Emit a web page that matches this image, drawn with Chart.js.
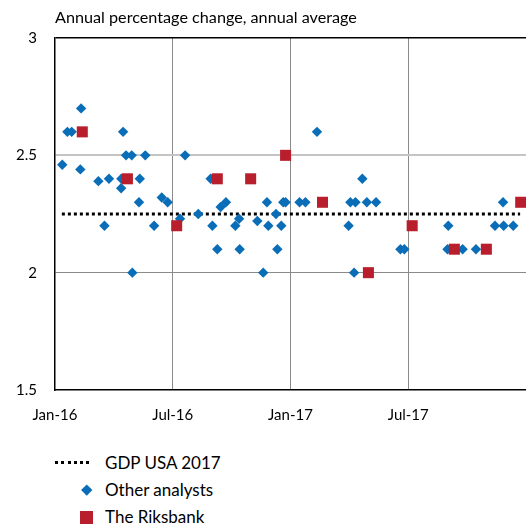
<!DOCTYPE html>
<html>
<head>
<meta charset="utf-8">
<script src="https://cdn.jsdelivr.net/npm/chart.js@4.4.0/dist/chart.umd.min.js"></script>
<style>
  body { margin: 0; background: #fff; }
  #wrap { position: relative; width: 526px; height: 524px; overflow: hidden; font-family: Lato, "Liberation Sans", sans-serif; color: #000; }
  #sub { position: absolute; left: 55px; top: 8px; font-size: 16.2px; line-height: 18px; white-space: nowrap; }
  #chart { position: absolute; left: 0; top: 0; }
  #legend { position: absolute; left: 0; top: 450px; width: 526px; }
  .row { position: absolute; left: 0; height: 26px; width: 526px; }
  .row .txt { position: absolute; left: 105px; top: 0; font-size: 17px; line-height: 26px; white-space: nowrap; }
  .sym { position: absolute; }
</style>
</head>
<body>
<div id="wrap">
  <canvas id="chart" width="526" height="430"></canvas>
  <div id="sub">Annual percentage change, annual average</div>
  <div id="legend"></div>
</div>
<script>
// Time is measured in months from January 2016 (0 = Jan-16, 24 = Jan-18)
const tickMonths = [0, 6, 12, 18];
const tickLabels = ['Jan-16', 'Jul-16', 'Jan-17', 'Jul-17'];
const yTicks = [1.5, 2, 2.5, 3];
const yTickLabels = ['1.5', '2', '2.5', '3'];

// Forecasts of US GDP growth for 2017, by publication date
const analystMonths = [0.37, 0.63, 0.85, 1.33, 1.29, 2.21, 2.52, 2.75, 3.37, 3.38, 3.47, 3.62, 3.91, 3.94, 4.28,
  4.32, 4.60, 5.05, 5.44, 5.74, 6.37, 6.63, 7.30, 7.93, 8.02, 8.27, 8.44, 8.71, 9.19, 9.38, 9.41, 10.31,
  10.61, 10.80, 10.87, 11.26, 11.33, 11.53, 11.63, 11.75, 12.46, 12.76, 13.35, 14.96, 15.05, 15.24, 15.31,
  15.66, 15.89, 16.36, 17.60, 17.80, 20.00, 20.04, 20.77, 21.45, 22.42, 22.83, 22.86, 23.35];
const analystValues = [2.46, 2.60, 2.60, 2.70, 2.44, 2.39, 2.20, 2.40, 2.36, 2.40, 2.60, 2.50, 2.50, 2.00, 2.30,
  2.40, 2.50, 2.20, 2.32, 2.30, 2.23, 2.50, 2.25, 2.40, 2.20, 2.10, 2.28, 2.30, 2.20, 2.23, 2.10, 2.22,
  2.00, 2.30, 2.20, 2.25, 2.10, 2.20, 2.30, 2.30, 2.30, 2.30, 2.60, 2.20, 2.30, 2.00, 2.30,
  2.40, 2.30, 2.30, 2.10, 2.10, 2.10, 2.20, 2.10, 2.10, 2.20, 2.30, 2.20, 2.20];

const riksbankMonths = [1.39, 3.69, 6.20, 8.27, 9.97, 11.75, 13.63, 15.97, 18.20, 20.35, 21.98, 23.73];
const riksbankValues = [2.60, 2.40, 2.20, 2.40, 2.40, 2.50, 2.30, 2.00, 2.20, 2.10, 2.10, 2.30];

// Outcome line
const gdpMonths = [0.35, 23.7];
const gdpValues = [2.25, 2.25];

const seriesNames = ['GDP USA 2017', 'Other analysts', 'The Riksbank'];
const blue = '#0a6db7';
const red = '#b81e2c';

const toPoints = (xs, ys) => xs.map((x, i) => ({ x: x, y: ys[i] }));

const font = { family: 'Lato, "Liberation Sans", sans-serif', size: 15 };

new Chart(document.getElementById('chart'), {
  type: 'scatter',
  data: {
    datasets: [
      {
        label: seriesNames[0],
        type: 'line',
        data: toPoints(gdpMonths, gdpValues),
        borderColor: '#000',
        borderWidth: 3,
        borderDash: [3, 3],
        pointRadius: 0,
        fill: false,
        order: 3
      },
      {
        label: seriesNames[1],
        data: toPoints(analystMonths, analystValues),
        pointStyle: 'rectRot',
        pointRadius: 5.2,
        pointBackgroundColor: blue,
        pointBorderColor: blue,
        pointBorderWidth: 0,
        order: 2
      },
      {
        label: seriesNames[2],
        data: toPoints(riksbankMonths, riksbankValues),
        pointStyle: 'rect',
        pointRadius: 7.8,
        pointBackgroundColor: red,
        pointBorderColor: red,
        pointBorderWidth: 0,
        order: 1
      }
    ]
  },
  options: {
    responsive: false,
    animation: false,
    layout: { autoPadding: false, padding: { top: 38, left: 0, right: 0, bottom: 0 } },
    plugins: { legend: { display: false }, tooltip: { enabled: false } },
    scales: {
      x: {
        type: 'linear',
        min: 0,
        max: 24,
        afterBuildTicks: s => { s.ticks = tickMonths.map(v => ({ value: v })); },
        afterFit: s => { s.height = 40; },
        ticks: {
          autoSkip: false,
          maxRotation: 0,
          padding: 16,
          color: '#000',
          font: font,
          callback: v => { const i = tickMonths.indexOf(v); return i < 0 ? '' : tickLabels[i]; }
        },
        grid: {
          drawTicks: false,
          color: c => (c.tick && c.tick.value === 0) ? 'rgba(0,0,0,0)' : '#8a8a8a',
          lineWidth: 1
        },
        border: { display: true, color: '#000', width: 1.5 }
      },
      y: {
        min: 1.5,
        max: 3,
        afterBuildTicks: s => { s.ticks = yTicks.map(v => ({ value: v })); },
        afterFit: s => { s.width = 55; },
        ticks: {
          padding: 18,
          color: '#000',
          font: font,
          callback: v => { const i = yTicks.indexOf(v); return i < 0 ? '' : yTickLabels[i]; }
        },
        grid: {
          drawTicks: false,
          color: c => {
            const v = c.tick ? c.tick.value : null;
            if (v === 3) return '#000';
            if (v === 2.5) return '#c4c4c4';
            if (v === 2) return '#8a8a8a';
            return 'rgba(0,0,0,0)';
          },
          lineWidth: c => (c.tick && c.tick.value === 2.5) ? 2 : (c.tick && c.tick.value === 3 ? 1.5 : 1)
        },
        border: { display: true, color: '#000', width: 1.5 }
      }
    }
  }
});

// Legend, one entry per row
const legend = document.getElementById('legend');
const symbols = [
  '<div class="sym" style="left:55px;top:11px;width:37px;height:3px;background:repeating-linear-gradient(90deg,#000 0 3px,transparent 3px 6.3px)"></div>',
  '<div class="sym" style="left:83px;top:9px;width:7.5px;height:7.5px;background:' + blue + ';transform:rotate(45deg)"></div>',
  '<div class="sym" style="left:80px;top:6.5px;width:13px;height:13px;background:' + red + '"></div>'
];
seriesNames.forEach((name, i) => {
  const row = document.createElement('div');
  row.className = 'row';
  row.style.top = (i * 27) + 'px';
  row.innerHTML = symbols[i] + '<div class="txt">' + name + '</div>';
  legend.appendChild(row);
});
</script>
</body>
</html>
